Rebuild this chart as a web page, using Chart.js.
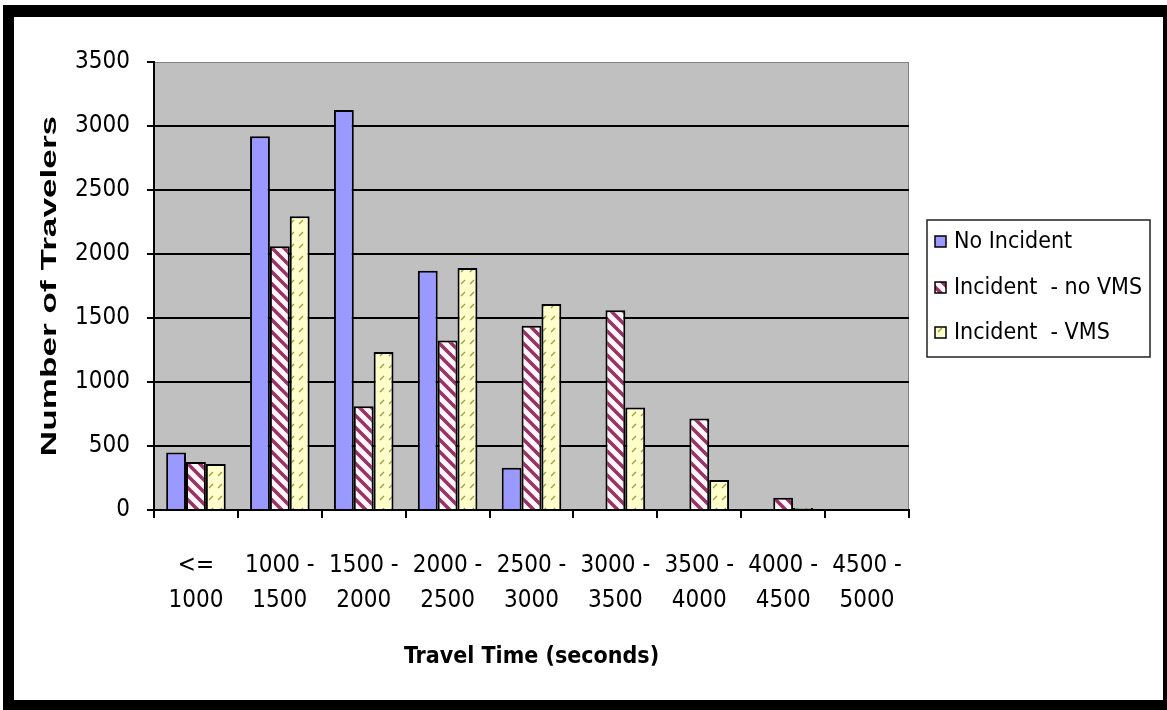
<!DOCTYPE html>
<html>
<head>
<meta charset="utf-8">
<script src="https://cdn.jsdelivr.net/npm/chart.js@4.4.1/dist/chart.umd.min.js"></script>
<style>
html,body{margin:0;padding:0;background:#fff;}
canvas{display:block;}
</style>
</head>
<body>
<canvas id="c" width="1167" height="710"></canvas>
<script>
// travel time bins
var categories = [['<=','1000'],['1000 -','1500'],['1500 -','2000'],['2000 -','2500'],['2500 -','3000'],['3000 -','3500'],['3500 -','4000'],['4000 -','4500'],['4500 -','5000']];
var seriesNames = ['No Incident','Incident  - no VMS','Incident  - VMS'];
var noIncident    = [450, 2920, 3125, 1870, 330,    0,   0,  0, 0];
var incidentNoVms = [375, 2060,  810, 1325, 1440, 1560, 715, 95, 0];
var incidentVms   = [360, 2295, 1235, 1890, 1610,  800, 235, 15, 0];
var yMin = 0, yMax = 3500, yStep = 500;

var NARROW = "'DejaVu Sans Condensed','Liberation Sans Narrow',sans-serif";

function stripes(){
    var c = document.createElement('canvas');
    c.width = 12; c.height = 12;
    var g = c.getContext('2d');
    g.fillStyle = '#fff6fa';
    g.fillRect(0,0,12,12);
    g.strokeStyle = '#993366';
    g.lineWidth = 3.5;
    g.beginPath();
    g.moveTo(-6,-6); g.lineTo(18,18);
    g.moveTo(-6,6); g.lineTo(6,18);
    g.moveTo(6,-6); g.lineTo(18,6);
    g.stroke();
    return g.createPattern(c,'repeat');
}

function dashes(){
    var c = document.createElement('canvas');
    c.width = 9; c.height = 12;
    var g = c.getContext('2d');
    g.fillStyle = '#ffffcc';
    g.fillRect(0,0,9,12);
    g.strokeStyle = '#9c9c40';
    g.lineWidth = 1.3;
    g.beginPath();
    g.moveTo(2,8); g.lineTo(6,4);
    g.stroke();
    return g.createPattern(c,'repeat');
}

var fills = ['#9999ff', stripes(), dashes()];

var framePlugin = {
    id: 'frame',
    beforeDraw: function(chart){
        var c = chart.ctx, a = chart.chartArea;
        c.save();
        c.fillStyle = '#fff';
        c.fillRect(0,0,chart.width,chart.height);
        c.fillStyle = '#000';
        c.fillRect(3,5,chart.width-3,chart.height-5);
        c.fillStyle = '#fff';
        c.fillRect(14,17,1149,683);
        c.fillStyle = '#c0c0c0';
        c.fillRect(a.left,a.top,a.right-a.left,a.bottom-a.top);
        c.strokeStyle = '#808080';
        c.lineWidth = 1;
        c.strokeRect(a.left+0.5,a.top+0.5,a.right-a.left-1,a.bottom-a.top-1);
        c.restore();
    },
    afterDraw: function(chart){
        var c = chart.ctx, a = chart.chartArea;
        c.save();
        // y axis title
        c.translate(50,(a.top+a.bottom)/2);
        c.rotate(-Math.PI/2);
        c.scale(1.6,1);
        c.font = "bold 22px 'Liberation Sans',Arial,sans-serif";
        c.fillStyle = '#000';
        c.textAlign = 'center';
        c.textBaseline = 'middle';
        c.fillText('Number of Travelers',0,0);
        c.restore();

        // legend
        c.save();
        c.fillStyle = '#fff';
        c.fillRect(927,220,223,137);
        c.strokeStyle = '#222';
        c.lineWidth = 1.5;
        c.strokeRect(927,220,223,137);
        var rows = [242,288,333];
        c.font = '23px ' + NARROW;
        c.textBaseline = 'middle';
        c.textAlign = 'left';
        chart.data.datasets.forEach(function(ds,i){
            c.fillStyle = ds.backgroundColor;
            c.fillRect(935,rows[i]-6,11,11);
            c.strokeStyle = '#000';
            c.lineWidth = 1.5;
            c.strokeRect(935,rows[i]-6,11,11);
            c.fillStyle = '#000';
            c.fillText(ds.label,954,rows[i]);
        });
        c.restore();
    }
};

var datasets = [noIncident, incidentNoVms, incidentVms].map(function(d,i){
    return {
        label: seriesNames[i],
        data: d,
        backgroundColor: fills[i],
        borderColor: '#000',
        borderWidth: 2
    };
});

var myChart = new Chart(document.getElementById('c').getContext('2d'), {
    type: 'bar',
    data: { labels: categories, datasets: datasets },
    options: {
        responsive: false,
        animation: false,
        layout: { padding: { left: 0, top: 62, right: 258, bottom: 0 } },
        datasets: { bar: { categoryPercentage: 0.71, barPercentage: 1 } },
        plugins: { legend: { display: false }, tooltip: { enabled: false } },
        scales: {
            x: {
                grid: { offset: true, drawOnChartArea: false, color: '#000', tickColor: '#000', tickLength: 8, lineWidth: 2 },
                border: { color: '#000', width: 2 },
                ticks: { font: { family: NARROW, size: 24, lineHeight: 1.46 }, color: '#000', padding: 30, maxRotation: 0, autoSkip: false },
                title: { display: true, text: 'Travel Time (seconds)', color: '#000',
                         font: { family: NARROW, size: 23, weight: 'bold', lineHeight: 1.2 },
                         padding: { top: 0, bottom: 39 } },
                afterFit: function(s){ s.height = 200; }
            },
            y: {
                min: yMin, max: yMax,
                ticks: { stepSize: yStep, font: { family: NARROW, size: 24 }, color: '#000', padding: 17,
                         callback: function(v){ return String(v); } },
                grid: { color: function(ctx){ return ctx.tick && ctx.tick.value === yMax ? 'rgba(0,0,0,0)' : '#000'; },
                        tickColor: '#000', lineWidth: 2, tickLength: 7 },
                border: { color: '#000', width: 2 },
                afterFit: function(s){ s.width = 154; }
            }
        }
    },
    plugins: [framePlugin]
});
</script>
</body>
</html>
